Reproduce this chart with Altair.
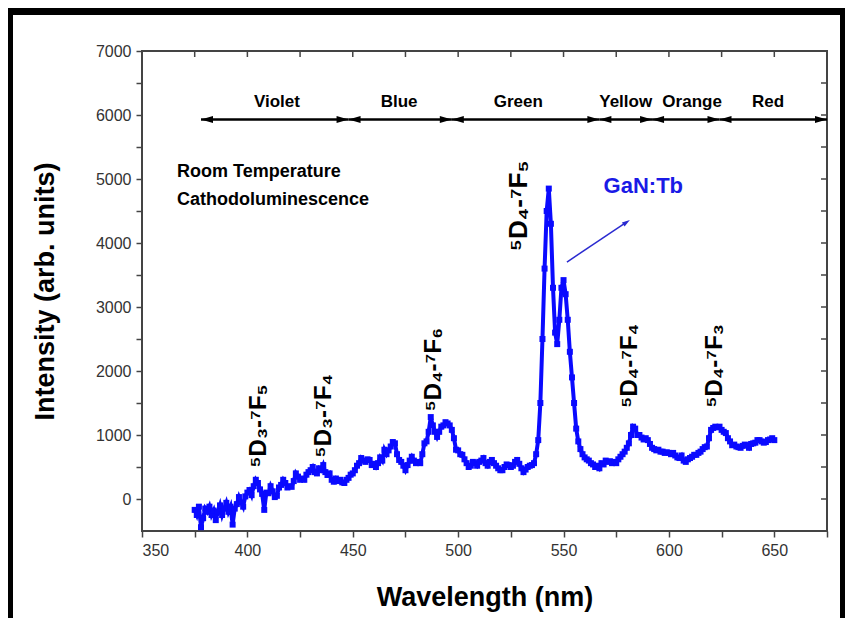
import altair as alt
import pandas as pd

# ---------------- data ----------------
intensity = [
    # 375-400
    -170, -250, -120, -440, -300, -150, -200, -120, -250, -180, -330, -200, -100,
    -250, -150, -60, -200, -120, -400, -150, -80, 30, -50, -120, 40, 100,
    # 401-430
    140, 60, 200, 300, 250, 150, 80, -170, 100, 90, 200, 120, 30, 50, 180,
    220, 300, 250, 180, 200, 190, 280, 400, 350, 300, 320, 300, 380, 420, 450,
    # 431-460
    500, 420, 400, 480, 450, 530, 420, 375, 400, 300, 270, 320, 280, 300, 260,
    250, 300, 330, 380, 400, 450, 520, 560, 640, 600, 580, 620, 610, 530, 550,
    # 461-490
    500, 560, 650, 600, 770, 700, 760, 820, 890, 870, 700, 610, 580, 520, 450,
    530, 600, 660, 600, 560, 580, 560, 700, 870, 900, 1050, 1280, 1150, 1050, 970,
    # 491-520
    1050, 1130, 1150, 1200, 1180, 1150, 1080, 950, 770, 760, 700, 690, 620, 560, 500,
    520, 580, 560, 520, 580, 600, 640, 560, 520, 580, 610, 560, 520, 480, 450,
    # 521-536
    450, 500, 540, 530, 500, 520, 580, 610, 550, 480, 420, 460, 500, 520, 530, 560,
    # 537-560
    700, 920, 1500, 2500, 3600, 4500, 4850, 4300, 3300, 2600, 2420, 2800, 3300,
    3420, 3200, 2800, 2300, 1900, 1500, 1100, 900, 780, 700, 650,
    # 561-590
    620, 600, 560, 540, 500, 520, 480, 560, 540, 600, 580, 590, 560, 580, 560,
    620, 660, 700, 740, 800, 870, 1000, 1130, 1100, 1000, 1000, 960, 930, 950, 920,
    # 591-620
    860, 800, 780, 760, 770, 740, 740, 720, 730, 720, 700, 720, 680, 650, 640,
    680, 600, 580, 620, 640, 660, 690, 690, 720, 740, 780, 810, 820, 950, 1080,
    # 621-650
    1110, 1130, 1120, 1130, 1080, 1050, 1030, 950, 900, 840, 850, 820, 810, 800, 830,
    850, 840, 800, 860, 870, 880, 920, 920, 900, 880, 890, 920, 930, 950, 920,
]
wavelength = [375 + i for i in range(len(intensity))]

band_names = ["Violet", "Blue", "Green", "Yellow", "Orange", "Red"]
band_bounds = [378, 448, 497, 567, 592, 624, 675]
band_label_x = [414, 472, 528.5, 579.5, 611, 647]
band_arrow_y = 5930
band_label_y = 6200

trans_labels = ["⁵D₃-⁷F₅", "⁵D₃-⁷F₄", "⁵D₄-⁷F₆", "⁵D₄-⁷F₅", "⁵D₄-⁷F₄", "⁵D₄-⁷F₃"]
trans_x = [405.5, 436.3, 488.5, 528.8, 581.5, 621.8]
trans_y = [1140, 1300, 2020, 4580, 2080, 2080]
trans_size = [24, 24, 24, 26, 24, 24]

note_lines = ["Room Temperature", "Cathodoluminescence"]
note_x = [366.6, 366.6]
note_y = [5110, 4670]

sample_label = "GaN:Tb"
sample_x = 569
sample_y = 4890
pointer_x = [551.6, 579.9]
pointer_y = [3703, 4325]

x_ticks = list(range(350, 676, 25))
y_ticks = list(range(0, 7001, 500))

# ---------------- tables ----------------
spec = pd.DataFrame({"wl": wavelength, "val": intensity})
seg = pd.DataFrame({"wl": band_bounds[:-1], "wl2": band_bounds[1:],
                    "val": [band_arrow_y] * len(band_names)})
heads_r = pd.DataFrame({"wl": band_bounds[1:], "val": [band_arrow_y] * len(band_names)})
heads_l = pd.DataFrame({"wl": band_bounds[:-1], "val": [band_arrow_y] * len(band_names)})
bands = pd.DataFrame({"wl": band_label_x, "val": [band_label_y] * len(band_names),
                      "t": band_names})
trans = pd.DataFrame({"wl": trans_x, "val": trans_y, "t": trans_labels, "s": trans_size})
notes = pd.DataFrame({"wl": note_x, "val": note_y, "t": note_lines})
sample = pd.DataFrame({"wl": [sample_x], "val": [sample_y], "t": [sample_label]})
pointer = pd.DataFrame({"wl": pointer_x, "val": pointer_y})
pointer_head = pd.DataFrame({"wl": [pointer_x[-1]], "val": [pointer_y[-1]]})
top_ticks = pd.DataFrame({"wl": x_ticks})
right_ticks = pd.DataFrame({"val": y_ticks})
frame = pd.DataFrame({"k": [0]})

FONT = "Liberation Sans, Arial, sans-serif"
BLUE = "#0a0aff"

xenc = alt.X("wl:Q", scale=alt.Scale(domain=[350, 675], nice=False, zero=False),
             axis=alt.Axis(values=x_ticks, format="d",
                           labelExpr="datum.value % 50 == 0 ? datum.label : ''",
                           title="Wavelength (nm)", titlePadding=26),
             title="Wavelength (nm)")
yenc = alt.Y("val:Q", scale=alt.Scale(domain=[-500, 7000], nice=False, zero=False),
             axis=alt.Axis(values=y_ticks, format="d",
                           labelExpr="datum.value % 1000 == 0 ? datum.label : ''",
                           title="Intensity (arb. units)", titlePadding=36),
             title="Intensity (arb. units)")

line = alt.Chart(spec).mark_line(color=BLUE, strokeWidth=4).encode(x=xenc, y=yenc)
pts = alt.Chart(spec).mark_square(color=BLUE, size=36, opacity=1).encode(x=xenc, y=yenc)

arrow_lines = alt.Chart(seg).mark_rule(color="black", strokeWidth=2.5).encode(
    x=xenc, x2="wl2:Q", y=yenc)
right_heads = alt.Chart(heads_r).mark_point(
    shape="M -1 -0.6 L 1 0 L -1 0.6 Z", filled=True, color="black", opacity=1,
    size=144, xOffset=-6).encode(x=xenc, y=yenc)
left_heads = alt.Chart(heads_l).mark_point(
    shape="M 1 -0.6 L -1 0 L 1 0.6 Z", filled=True, color="black", opacity=1,
    size=144, xOffset=6).encode(x=xenc, y=yenc)
band_text = alt.Chart(bands).mark_text(
    font=FONT, fontSize=17, fontWeight="bold", color="black",
    align="center", baseline="middle").encode(x=xenc, y=yenc, text="t:N")

trans_text = alt.Chart(trans).mark_text(
    font=FONT, fontWeight="bold", color="black", angle=270,
    align="center", baseline="middle").encode(
    x=xenc, y=yenc, text="t:N", size=alt.Size("s:Q", scale=None, legend=None))

note_text = alt.Chart(notes).mark_text(
    font=FONT, fontSize=18, fontWeight="bold", color="black",
    align="left", baseline="middle").encode(x=xenc, y=yenc, text="t:N")

sample_text = alt.Chart(sample).mark_text(
    font=FONT, fontSize=22, fontWeight="bold", color="#1a1ae6",
    align="left", baseline="middle").encode(x=xenc, y=yenc, text="t:N")
pointer_line = alt.Chart(pointer).mark_line(color="#2a2ad0", strokeWidth=1.5).encode(
    x=xenc, y=yenc)
pointer_tip = alt.Chart(pointer_head).mark_point(
    shape="M -0.6 1 L 0 -1 L 0.6 1 Z", filled=True, color="#2a2ad0", opacity=1,
    size=64, angle=56).encode(x=xenc, y=yenc)

top_t = alt.Chart(top_ticks).mark_rule(color="#444", strokeWidth=1.5).encode(
    x=xenc, y=alt.value(0), y2=alt.value(6))
right_t = alt.Chart(right_ticks).mark_rule(color="#444", strokeWidth=1.5).encode(
    y=yenc, x=alt.value(685), x2=alt.value(679))

frame_l = alt.Chart(frame).mark_rect(color="black").encode(
    x=alt.value(-134), x2=alt.value(-129), y=alt.value(-43), y2=alt.value(567))
frame_t = alt.Chart(frame).mark_rect(color="black").encode(
    x=alt.value(-134), x2=alt.value(703), y=alt.value(-43), y2=alt.value(-36))
frame_r = alt.Chart(frame).mark_rect(color="black").encode(
    x=alt.value(698), x2=alt.value(703), y=alt.value(-43), y2=alt.value(567))

chart = alt.layer(
    line, pts, arrow_lines, right_heads, left_heads, band_text, trans_text,
    note_text, pointer_line, pointer_tip, sample_text, top_t, right_t,
    frame_l, frame_t, frame_r,
).properties(
    width=685, height=480,
    padding={"left": 134, "top": 43, "right": 18, "bottom": 87},
    autosize=alt.AutoSizeParams(type="none"),
    background="white",
).configure_view(
    stroke="#444", strokeWidth=2,
).configure_axis(
    labelFont=FONT, labelFontSize=16, labelColor="#333",
    titleFont=FONT, titleFontSize=27, titleFontWeight="bold", titleColor="black",
    tickColor="#444", tickWidth=1.5, tickSize=6, labelPadding=5,
    domain=False, grid=False,
)

chart.save("out.html", embed_options={"renderer": "svg", "actions": False})
